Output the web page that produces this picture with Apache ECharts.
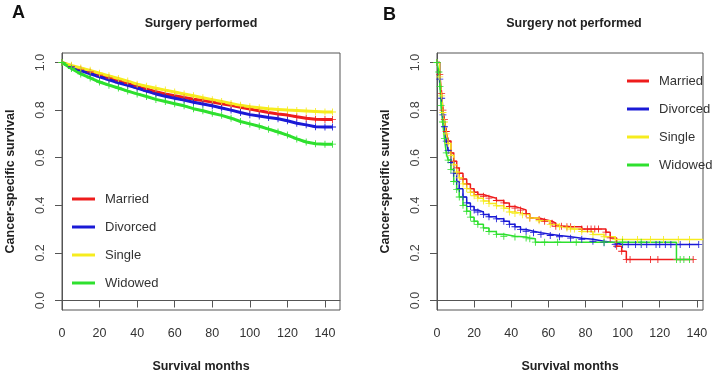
<!DOCTYPE html>
<html>
<head>
<meta charset="utf-8">
<title>Cancer-specific survival by marital status</title>
<script src="https://cdn.jsdelivr.net/npm/echarts@6/dist/echarts.min.js"></script>
<style>
  html, body { margin: 0; padding: 0; background: #fff; }
  #chart { width: 717px; height: 374px; }
</style>
</head>
<body>
<div id="chart"></div>
<script>
  // groups, in the order of the legend
  const groups = ['Married', 'Divorced', 'Single', 'Widowed']

  // axis ticks (same on both panels)
  const xTicks = [0, 20, 40, 60, 80, 100, 120, 140]
  const yTicks = [0, 0.2, 0.4, 0.6, 0.8, 1.0]

  // panel A: surgery performed, read every 5 months
  const aMonths = [0, 5, 10, 15, 20, 25, 30, 35, 40, 45, 50, 55, 60, 65, 70, 75, 80, 85, 90, 95, 100, 105, 110, 115, 120, 125, 130, 135, 140, 144]
  const aMarried = [1.0, 0.985, 0.972, 0.96, 0.947, 0.935, 0.923, 0.912, 0.9, 0.888, 0.877, 0.868, 0.86, 0.853, 0.846, 0.84, 0.834, 0.827, 0.82, 0.812, 0.805, 0.797, 0.79, 0.784, 0.779, 0.772, 0.766, 0.762, 0.761, 0.761]
  const aDivorced = [1.0, 0.982, 0.966, 0.953, 0.94, 0.927, 0.915, 0.904, 0.893, 0.88, 0.868, 0.858, 0.85, 0.842, 0.833, 0.826, 0.818, 0.809, 0.8, 0.79, 0.781, 0.775, 0.769, 0.764, 0.755, 0.745, 0.738, 0.73, 0.729, 0.729]
  const aSingle = [1.0, 0.988, 0.977, 0.967, 0.955, 0.944, 0.933, 0.922, 0.909, 0.9, 0.892, 0.884, 0.876, 0.868, 0.86, 0.852, 0.844, 0.836, 0.828, 0.82, 0.814, 0.81, 0.806, 0.803, 0.8, 0.798, 0.796, 0.794, 0.792, 0.792]
  const aWidowed = [1.0, 0.975, 0.952, 0.935, 0.918, 0.905, 0.893, 0.88, 0.868, 0.857, 0.845, 0.836, 0.827, 0.818, 0.806, 0.797, 0.787, 0.778, 0.766, 0.752, 0.742, 0.732, 0.72, 0.708, 0.695, 0.679, 0.666, 0.659, 0.657, 0.657]

  // panel B: surgery not performed, [month, survival] at steps and censor marks
  const bMarried = [[0, 1], [1.5, 0.95], [2.5, 0.87], [3.2, 0.8], [4, 0.76], [5, 0.71], [6, 0.67], [7.5, 0.62], [9, 0.585], [10.6, 0.557], [12, 0.535], [14, 0.51], [16, 0.49], [18, 0.47], [20, 0.455], [22, 0.445], [25, 0.438], [28, 0.43], [32, 0.42], [36, 0.41], [39, 0.395], [42, 0.388], [45, 0.38], [48, 0.365], [50, 0.347], [55, 0.34], [58, 0.333], [62, 0.325], [64, 0.312], [67, 0.312], [70, 0.31], [72, 0.31], [78, 0.3], [81, 0.3], [83, 0.3], [85, 0.3], [87, 0.3], [91, 0.287], [93.3, 0.263], [96.8, 0.228], [99.5, 0.207], [102, 0.172], [104, 0.172], [115, 0.172], [119, 0.172], [138, 0.172]]
  const bDivorced = [[0, 1], [1.5, 0.93], [2.5, 0.85], [3.2, 0.78], [4, 0.73], [5, 0.67], [6, 0.63], [7.5, 0.58], [9, 0.535], [10.6, 0.5], [12, 0.47], [14, 0.435], [16, 0.41], [18, 0.395], [20, 0.38], [22, 0.372], [25, 0.361], [28, 0.352], [32, 0.343], [36, 0.333], [39, 0.32], [42, 0.31], [45, 0.298], [48, 0.291], [52, 0.285], [56, 0.278], [61, 0.273], [66, 0.268], [72, 0.262], [78, 0.257], [84, 0.249], [90, 0.243], [96, 0.235], [100, 0.235], [103, 0.235], [107, 0.235], [110, 0.235], [113, 0.235], [118, 0.235], [120, 0.235], [123, 0.235], [126, 0.235], [131, 0.235], [136, 0.235], [141, 0.235]]
  const bSingle = [[0, 1], [1.5, 0.94], [2.5, 0.86], [3.2, 0.79], [4, 0.75], [5, 0.7], [6, 0.66], [7.5, 0.61], [9, 0.57], [10.6, 0.54], [12, 0.515], [14, 0.49], [16, 0.47], [18, 0.455], [20, 0.44], [22, 0.43], [25, 0.418], [28, 0.408], [32, 0.398], [36, 0.388], [39, 0.372], [42, 0.366], [46, 0.36], [50, 0.347], [55, 0.335], [61, 0.319], [66, 0.31], [70, 0.305], [72, 0.3], [74, 0.3], [78, 0.29], [84, 0.277], [90, 0.268], [96, 0.256], [100, 0.256], [108, 0.256], [115, 0.256], [122, 0.256], [130, 0.256], [136, 0.256], [143.4, 0.256]]
  const bWidowed = [[0, 1], [1, 0.96], [1.6, 0.9], [2.2, 0.82], [3, 0.75], [4, 0.68], [5, 0.62], [6, 0.59], [7.5, 0.55], [9, 0.5], [10.6, 0.466], [12, 0.435], [14, 0.4], [16, 0.375], [18, 0.35], [20, 0.333], [22, 0.32], [25, 0.305], [28, 0.29], [32, 0.278], [36, 0.27], [42, 0.267], [48, 0.263], [50, 0.259], [53, 0.245], [58, 0.245], [65, 0.245], [75, 0.245], [90, 0.245], [100, 0.245], [110, 0.245], [129, 0.172], [131, 0.172], [133, 0.172], [136, 0.172]]

  const colors = ['#ee1c1c', '#1a1ad6', '#f6ec1e', '#2ee02e']
  const font = 'Liberation Sans, Arial, sans-serif'
  // R's censor mark "+"
  const plus = 'path://M4.4,0H5.6V4.4H10V5.6H5.6V10H4.4V5.6H0V4.4H4.4Z'

  const aSeries = [aMarried, aDivorced, aSingle, aWidowed]
  const bSeries = [bMarried, bDivorced, bSingle, bWidowed]

  const xAxisOf = (gridIndex, max) => ({
    type: 'value',
    gridIndex,
    min: 0,
    max,
    name: 'Survival months',
    nameLocation: 'middle',
    nameGap: 50,
    nameTextStyle: { fontSize: 12.5, fontWeight: 'bold', color: '#222' },
    axisLine: { show: true, lineStyle: { color: '#555' } },
    axisTick: { show: true, length: 7, lineStyle: { color: '#555' }, customValues: xTicks },
    axisLabel: { customValues: xTicks, margin: 17, fontSize: 12.5, color: '#333' },
    splitLine: { show: false }
  })

  const yAxisOf = (gridIndex) => ({
    type: 'value',
    gridIndex,
    min: -0.04,
    max: 1.04,
    name: 'Cancer-specific survival',
    nameLocation: 'middle',
    nameGap: 45,
    nameTextStyle: { fontSize: 12.5, fontWeight: 'bold', color: '#222' },
    axisLine: { show: true, lineStyle: { color: '#555' } },
    axisTick: { show: true, length: 7, lineStyle: { color: '#555' }, customValues: yTicks },
    axisLabel: {
      customValues: yTicks,
      rotate: 90,
      margin: 15,
      fontSize: 12.5,
      color: '#444',
      formatter: (v) => v.toFixed(1)
    },
    splitLine: { show: false }
  })

  const legendOf = (left, top, itemWidth) => ({
    orient: 'vertical',
    left,
    top,
    padding: 0,
    itemWidth,
    itemHeight: 3,
    itemGap: 12,
    icon: 'rect',
    selectedMode: false,
    data: groups,
    textStyle: { fontSize: 13, color: '#333', lineHeight: 16, padding: [0, 0, 0, 5] }
  })

  const series = []
  groups.forEach((name, i) => {
    series.push({
      name,
      type: 'line',
      xAxisIndex: 0,
      yAxisIndex: 0,
      data: aMonths.map((m, j) => [m, aSeries[i][j]]),
      symbol: plus,
      symbolSize: 7,
      showSymbol: true,
      showAllSymbol: true,
      lineStyle: { color: colors[i], width: 3 },
      itemStyle: { color: colors[i], borderWidth: 0 },
      emphasis: { disabled: true },
      silent: true
    })
  })
  groups.forEach((name, i) => {
    series.push({
      name,
      type: 'line',
      step: 'end',
      xAxisIndex: 1,
      yAxisIndex: 1,
      data: bSeries[i],
      symbol: plus,
      symbolSize: 7,
      showSymbol: true,
      showAllSymbol: true,
      lineStyle: { color: colors[i], width: 1.5 },
      itemStyle: { color: colors[i], borderWidth: 0 },
      emphasis: { disabled: true },
      silent: true
    })
  })

  const chart = echarts.init(document.getElementById('chart'))
  chart.setOption({
    animation: false,
    backgroundColor: '#fff',
    textStyle: { fontFamily: font },
    color: colors,
    title: [
      { text: 'A', left: 12, top: 4, padding: 0, textStyle: { fontSize: 18, fontWeight: 'bold', color: '#111' } },
      { text: 'B', left: 383, top: 6, padding: 0, textStyle: { fontSize: 18, fontWeight: 'bold', color: '#111' } },
      { text: 'Surgery performed', left: 201, top: 17, textAlign: 'center', padding: 0, textStyle: { fontSize: 12.5, fontWeight: 'bold', color: '#222' } },
      { text: 'Surgery not performed', left: 574, top: 17, textAlign: 'center', padding: 0, textStyle: { fontSize: 12.5, fontWeight: 'bold', color: '#222' } }
    ],
    legend: [legendOf(72, 191, 23), legendOf(627, 73, 22)],
    grid: [
      { left: 62, top: 53, width: 278, height: 257, show: true, borderColor: '#555', borderWidth: 1, backgroundColor: 'transparent', outerBoundsMode: 'none' },
      { left: 437, top: 53, width: 266, height: 257, show: true, borderColor: '#555', borderWidth: 1, backgroundColor: 'transparent', outerBoundsMode: 'none' }
    ],
    xAxis: [xAxisOf(0, 148), xAxisOf(1, 143.3)],
    yAxis: [yAxisOf(0), yAxisOf(1)],
    series
  })
</script>
</body>
</html>
